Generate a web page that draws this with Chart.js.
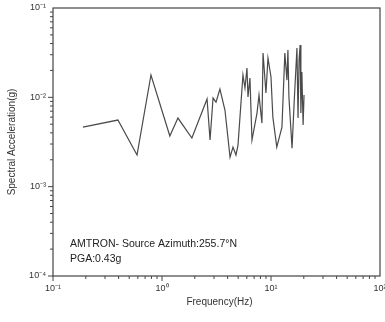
<!DOCTYPE html>
<html><head><meta charset="utf-8">
<script src="https://cdn.jsdelivr.net/npm/chart.js@4/dist/chart.umd.min.js"></script>
<style>html,body{margin:0;padding:0;background:#fff;}#wrap{width:385px;height:322px;}</style>
</head><body><div id="wrap"><canvas id="c" width="385" height="322"></canvas></div>
<script>
const frequencies = [0.188,0.394,0.590,0.792,1.18,1.40,1.88,2.59,2.76,2.94,3.13,3.40,3.78,4.21,4.48,4.77,4.98,5.53,5.77,6.02,6.15,6.41,6.69,7.44,7.76,8.26,8.45,8.99,9.38,10.0,10.4,11.3,12.6,13.4,14.0,14.3,14.6,15.6,16.3,17.3,17.7,18.1,18.5,18.8,19.2,19.7,20.1];
const accelerations = [0.00465,0.00557,0.00226,0.0178,0.00369,0.00586,0.00350,0.00957,0.00333,0.00982,0.00885,0.0124,0.00721,0.00214,0.00277,0.00226,0.00292,0.0178,0.0127,0.0213,0.0101,0.0164,0.00333,0.00667,0.0106,0.00515,0.0313,0.0112,0.0275,0.0169,0.00601,0.00277,0.00465,0.0313,0.0156,0.0339,0.0101,0.00270,0.00863,0.0357,0.00586,0.0262,0.0385,0.00667,0.0192,0.00490,0.0106];
const xTickValues = [0.1,1,10,100];
const xTickLabels = ["10\u207B\u00B9","10\u2070","10\u00B9","10\u00B2"];
const yTickValues = [0.1,0.01,0.001,0.0001];
const yTickLabels = ["10\u207B\u00B9","10\u207B\u00B2","10\u207B\u00B3","10\u207B\u2074"];
const xTitle = "Frequency(Hz)";
const yTitle = "Spectral Acceleration(g)";
const noteLines = ["AMTRON- Source Azimuth:255.7\u00B0N","PGA:0.43g"];

const FONT = "'Liberation Sans', Arial, sans-serif";
const axisColor = "#444";

const decor = {
  id: 'decor',
  afterDraw(chart) {
    const ctx = chart.ctx, a = chart.chartArea;
    const xs = chart.scales.x, ys = chart.scales.y;
    ctx.save();
    ctx.strokeStyle = axisColor; ctx.lineWidth = 1.2;
    ctx.strokeRect(a.left, a.top, a.right - a.left, a.bottom - a.top);
    ctx.lineWidth = 1;
    for (let e = -1; e < 2; e++) {
      for (let m = 1; m < 10; m++) {
        const v = m * Math.pow(10, e);
        const px = xs.getPixelForValue(v);
        const len = m === 1 ? 5 : 3;
        ctx.beginPath(); ctx.moveTo(px, a.bottom); ctx.lineTo(px, a.bottom + len); ctx.stroke();
      }
    }
    for (let e = -4; e < -1; e++) {
      for (let m = 1; m < 10; m++) {
        const v = m * Math.pow(10, e);
        const py = ys.getPixelForValue(v);
        const len = m === 1 ? 5 : 3;
        ctx.beginPath(); ctx.moveTo(a.left - len, py); ctx.lineTo(a.left, py); ctx.stroke();
      }
    }
    ctx.fillStyle = "#333";
    ctx.font = "9px " + FONT;
    ctx.textAlign = "center"; ctx.textBaseline = "top";
    xTickValues.forEach((v, i) => ctx.fillText(xTickLabels[i], xs.getPixelForValue(v), a.bottom + 8));
    ctx.textAlign = "right"; ctx.textBaseline = "middle";
    yTickValues.forEach((v, i) => ctx.fillText(yTickLabels[i], a.left - 7, ys.getPixelForValue(v)));
    ctx.font = "10px " + FONT;
    ctx.textAlign = "center"; ctx.textBaseline = "middle";
    ctx.fillText(xTitle, (a.left + a.right) / 2 + 3, 302);
    ctx.save();
    ctx.translate(12, (a.top + a.bottom) / 2);
    ctx.rotate(-Math.PI / 2);
    ctx.fillText(yTitle, 0, 0);
    ctx.restore();
    ctx.font = "10.5px " + FONT;
    ctx.textAlign = "left"; ctx.textBaseline = "middle";
    ctx.fillStyle = "#222";
    ctx.fillText(noteLines[0], 70, 244);
    ctx.fillText(noteLines[1], 70, 259);
    ctx.restore();
  }
};

new Chart(document.getElementById('c'), {
  type: 'line',
  data: { datasets: [{
    data: frequencies.map((f, i) => ({x: f, y: accelerations[i]})),
    borderColor: '#4a4a4a', borderWidth: 1.2, pointRadius: 0, tension: 0, fill: false
  }]},
  options: {
    responsive: false, animation: false, devicePixelRatio: 1,
    layout: { padding: { left: 53, right: 5, top: 8, bottom: 46 } },
    plugins: { legend: { display: false }, tooltip: { enabled: false } },
    scales: {
      x: { type: 'logarithmic', min: 0.1, max: 100, display: false },
      y: { type: 'logarithmic', min: 0.0001, max: 0.1, display: false }
    }
  },
  plugins: [decor]
});
</script></body></html>
